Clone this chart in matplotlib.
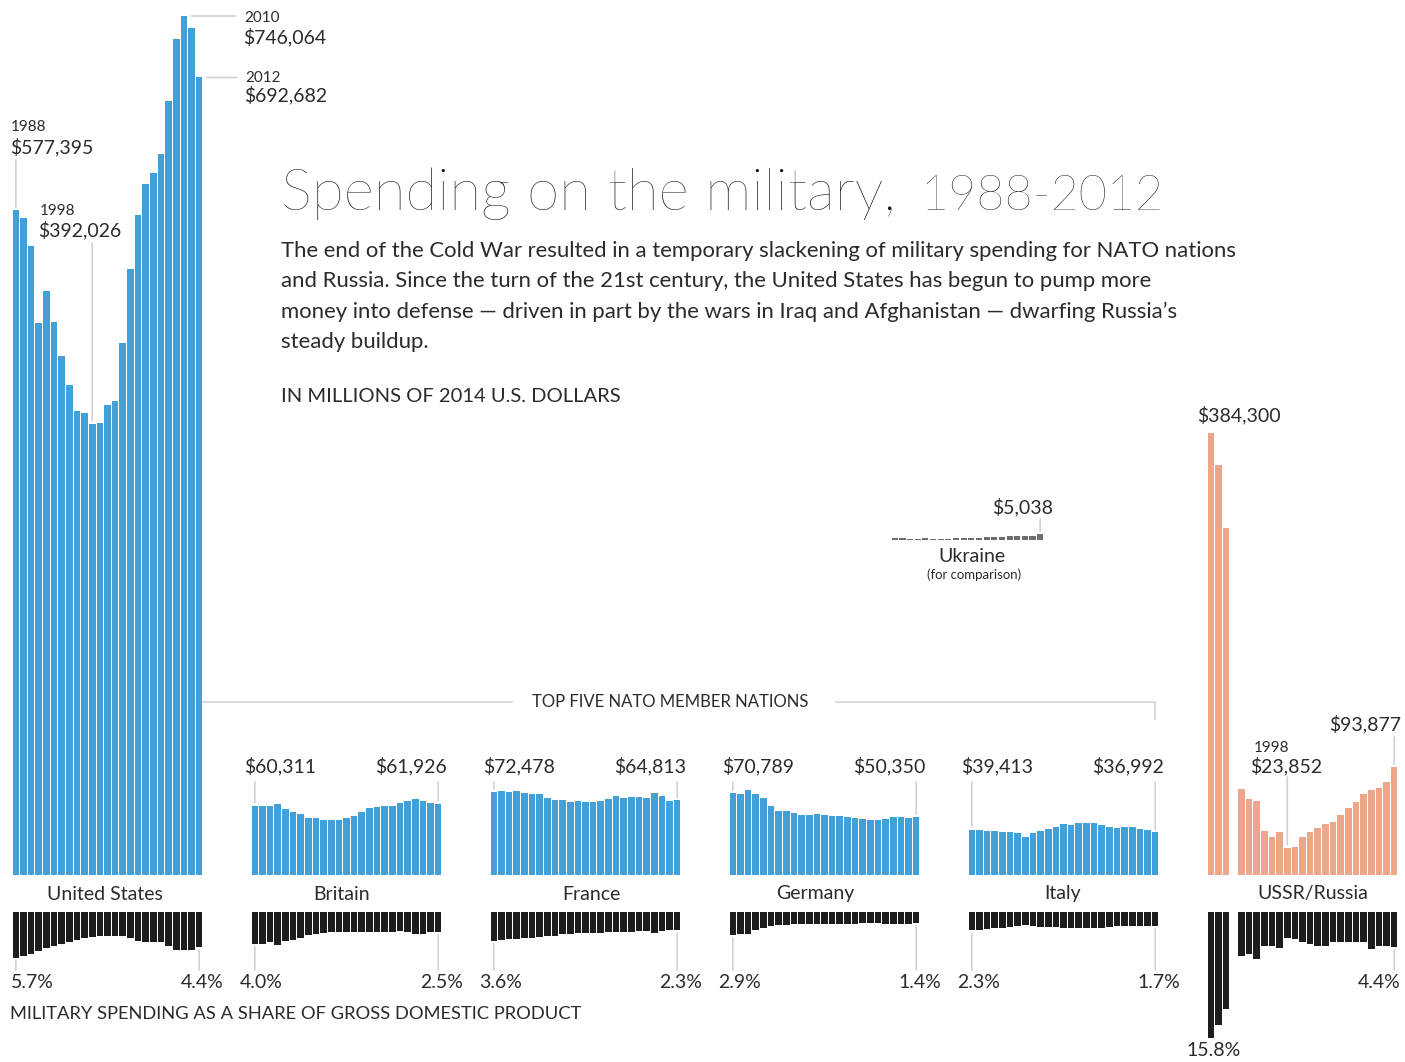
import matplotlib
matplotlib.use("Agg")
import matplotlib.pyplot as plt
from matplotlib.lines import Line2D
from matplotlib.transforms import Affine2D, blended_transform_factory

plt.rcParams["font.family"] = ["Lato", "DejaVu Sans"]

# Military spending, millions of 2014 U.S. dollars, 1988-2012
years = list(range(1988, 2013))

us_spend = [577395, 571000, 546000, 479000, 507000, 480000, 451000, 426000,
            403000, 401000, 392026, 393000, 408000, 412000, 462000, 526000,
            573000, 600000, 610000, 626000, 672000, 726000, 746064, 736000,
            692682]
uk_spend = [60311, 60300, 60300, 61700, 57100, 54400, 53000, 49500, 49300,
            47800, 47800, 47800, 49300, 51500, 54400, 58500, 59000, 59900,
            60300, 62200, 64600, 65700, 64600, 62200, 61926]
fr_spend = [72478, 72900, 72500, 72900, 70900, 70100, 70100, 66600, 65100,
            65100, 63700, 63900, 63100, 63000, 64000, 66300, 68600, 67100,
            67400, 67400, 66600, 71500, 68600, 64500, 64813]
de_spend = [70789, 70200, 73800, 70200, 66600, 59900, 55900, 55300, 54100,
            51800, 51800, 53000, 52100, 51500, 51500, 50700, 49200, 48600,
            47800, 47800, 48600, 50100, 50700, 49200, 50350]
it_spend = [39413, 39100, 37900, 38100, 37300, 37300, 36900, 32700, 36900,
            38300, 40000, 41400, 44000, 43400, 44900, 45200, 45200, 43400,
            42000, 40500, 42000, 41300, 40000, 39100, 36992]
ussr_years = [1988, 1989, 1990]
ussr_spend = [384300, 356000, 301000]
russia_years = list(range(1992, 2013))
russia_spend = [74700, 66000, 64300, 38200, 33300, 37100, 23852, 24100, 33300,
                37100, 41100, 44300, 45700, 52100, 58500, 63700, 70100, 73800,
                75300, 81000, 93877]
ukraine_years = list(range(1993, 2013))
ukraine_spend = [1500, 1400, 1300, 1200, 1400, 1100, 1000, 1300, 1500, 1600,
                 1700, 1900, 2300, 2600, 3000, 3600, 3400, 3700, 3700, 5038]

# Military spending as a share of GDP, percent
us_gdp = [5.7, 5.5, 5.2, 4.9, 4.5, 4.2, 4.0, 3.7, 3.5, 3.3, 3.1, 3.0, 3.0, 3.0,
          3.0, 3.3, 3.6, 3.8, 3.8, 3.8, 4.3, 4.8, 4.8, 4.7, 4.4]
uk_gdp = [4.0, 3.95, 3.8, 4.1, 3.65, 3.45, 3.2, 2.9, 2.7, 2.6, 2.5, 2.45, 2.45,
          2.45, 2.45, 2.55, 2.55, 2.55, 2.45, 2.4, 2.45, 2.75, 2.75, 2.55, 2.5]
fr_gdp = [3.6, 3.45, 3.35, 3.35, 3.3, 3.2, 3.1, 3.0, 2.95, 2.8, 2.7, 2.65, 2.65,
          2.65, 2.6, 2.55, 2.55, 2.55, 2.55, 2.4, 2.4, 2.6, 2.4, 2.3, 2.3]
de_gdp = [2.9, 2.7, 2.8, 2.2, 1.95, 1.75, 1.65, 1.6, 1.55, 1.5, 1.5, 1.5, 1.5,
          1.5, 1.5, 1.5, 1.45, 1.4, 1.4, 1.4, 1.45, 1.5, 1.5, 1.45, 1.4]
it_gdp = [2.3, 2.2, 2.1, 2.0, 2.0, 1.9, 1.8, 1.6, 1.75, 1.9, 1.9, 1.9, 2.0, 2.0,
          2.0, 2.0, 2.0, 2.0, 1.9, 1.75, 1.75, 1.75, 1.75, 1.7, 1.7]
ussr_gdp = [15.8, 14.1, 12.1]
russia_gdp = [5.5, 5.2, 5.9, 4.3, 4.2, 4.5, 3.2, 3.4, 3.7, 4.0, 4.3, 4.3, 3.8,
              3.8, 3.8, 3.8, 3.7, 4.6, 4.3, 4.2, 4.4]

BLUE = "#42a0d8"
PINK = "#eca68a"
BLACK = "#1d1d1d"
TEXT = "#2b2b2b"
RULE = "#d2d2d2"

W, H = 1405, 1062
SPEND_PX = 859 / 746064      # pixels per million dollars
GDP_PX = 8.0                 # pixels per percentage point
BASE = 875                   # spending baseline
GDP_TOP = 912                # top of the GDP-share bars

fig = plt.figure(figsize=(W / 100, H / 100), dpi=100)
# pixel coordinates, origin at top left
px = Affine2D().scale(1 / W, -1 / H).translate(0, 1) + fig.transFigure


def px_axes(x0, x1, y_top, y_bot):
    ax = fig.add_axes([x0 / W, 1 - y_bot / H, (x1 - x0) / W, (y_bot - y_top) / H])
    ax.set_axis_off()
    ax.patch.set_alpha(0)
    ax.set_xlim(-0.5, 24.5)
    return ax


def spend_axes(x0, x1, base=BASE):
    ax = px_axes(x0, x1, 0, base)
    ax.set_ylim(0, base / SPEND_PX)
    return ax


def gdp_axes(x0, x1):
    ax = px_axes(x0, x1, GDP_TOP, H)
    ax.set_ylim((H - GDP_TOP) / GDP_PX, 0)
    return ax


def txt(x, y, s, size=14, ha="left", **kw):
    fig.text(x, y, s, transform=px, size=size, ha=ha, va="center",
             color=TEXT, **kw)


def leader(ax, i, v, y_end):
    tr = blended_transform_factory(ax.transData, px)
    ax.annotate("", xy=(i, v), xytext=(i, y_end), textcoords=tr,
                arrowprops=dict(arrowstyle="-", color=RULE, lw=1.2,
                                shrinkA=0, shrinkB=2))


def hleader(ax, i, v, x_end):
    tr = blended_transform_factory(px, ax.transData)
    ax.annotate("", xy=(i, v), xytext=(x_end, v), textcoords=tr,
                arrowprops=dict(arrowstyle="-", color=RULE, lw=1.2,
                                shrinkA=0, shrinkB=3))


idx = list(range(25))
PITCH = 239
panels = [
    ("United States", us_spend, us_gdp, 105),
    ("Britain", uk_spend, uk_gdp, 342),
    ("France", fr_spend, fr_gdp, 591),
    ("Germany", de_spend, de_gdp, 815),
    ("Italy", it_spend, it_gdp, 1063),
]

for k, (name, spend, gdp, name_x) in enumerate(panels):
    x0 = 12 + PITCH * k
    x1 = x0 + 191
    ax = spend_axes(x0, x1)
    ax.bar(idx, spend, width=0.86, color=BLUE, linewidth=0)
    gx = gdp_axes(x0, x1)
    gx.bar(idx, gdp, width=0.86, color=BLACK, linewidth=0)
    txt(name_x, 894, name, ha="center")

    # share-of-GDP end labels
    leader(gx, 0, gdp[0], 970)
    leader(gx, 24, gdp[-1], 970)
    txt(x0 - (1 if k == 0 else 11), 983, f"{gdp[0]:.1f}%")
    txt(x1 + 21, 983, f"{gdp[-1]:.1f}%", ha="right")

    if k > 0:
        leader(ax, 0, spend[0], 782)
        leader(ax, 24, spend[-1], 782)
        txt(x0 - 7, 766, f"${spend[0]:,}")
        txt(x1 + 5, 766, f"${spend[-1]:,}", ha="right")
    else:
        us_ax = ax

# United States call-outs
i88, i98, i10, i12 = (years.index(y) for y in (1988, 1998, 2010, 2012))
leader(us_ax, i88, us_spend[i88], 160)
txt(11, 127, "1988", size=11)
txt(10, 147, f"${us_spend[i88]:,}")
leader(us_ax, i98, us_spend[i98], 243)
txt(40, 211, "1998", size=11)
txt(38, 230, f"${us_spend[i98]:,}")
hleader(us_ax, i10 + 0.45, us_spend[i10], 236)
txt(244, 18, "2010", size=11)
txt(243, 37, f"${us_spend[i10]:,}")
hleader(us_ax, i12 + 0.45, us_spend[i12], 237)
txt(245, 78, "2012", size=11)
txt(244, 95, f"${us_spend[i12]:,}")

# USSR / Russia
rx0 = 12 + PITCH * 5
rx1 = rx0 + 191
r_ussr = [y - 1988 for y in ussr_years]
r_rus = [y - 1988 for y in russia_years]
rax = spend_axes(rx0, rx1)
rax.bar(r_ussr, ussr_spend, width=0.86, color=PINK, linewidth=0)
rax.bar(r_rus, russia_spend, width=0.86, color=PINK, linewidth=0)
rgx = gdp_axes(rx0, rx1)
rgx.bar(r_ussr, ussr_gdp, width=0.86, color=BLACK, linewidth=0)
rgx.bar(r_rus, russia_gdp, width=0.86, color=BLACK, linewidth=0)
txt(1313, 894, "USSR/Russia", ha="center")
txt(1197, 415, f"${ussr_spend[0]:,}")
j98 = russia_years.index(1998)
leader(rax, r_rus[j98], russia_spend[j98], 777)
txt(1254, 748, "1998", size=11)
txt(1250, 766, f"${russia_spend[j98]:,}")
leader(rax, r_rus[-1], russia_spend[-1], 737)
txt(1401, 724, f"${russia_spend[-1]:,}", ha="right")
txt(1186, 1050, f"{ussr_gdp[0]:.1f}%")
leader(rgx, r_rus[-1], russia_gdp[-1], 970)
txt(1401, 983, f"{russia_gdp[-1]:.1f}%", ha="right")

# Ukraine, for comparison
uax = spend_axes(891, 1044, base=540)
uax.set_xlim(-0.5, 19.5)
uax.bar(range(len(ukraine_spend)), ukraine_spend, width=0.8,
        color="#6e6e6e", linewidth=0)
leader(uax, len(ukraine_spend) - 1, ukraine_spend[-1], 519)
txt(1053, 507, f"${ukraine_spend[-1]:,}", ha="right")
txt(972, 556, "Ukraine", ha="center")
txt(974, 575, "(for comparison)", size=9.5, ha="center")

# NATO bracket
for xs, ys in (([203, 512], [702, 702]), ([836, 1155, 1155], [702, 702, 719])):
    fig.add_artist(Line2D(xs, ys, transform=px, color=RULE, lw=1.2))
txt(670, 702, "TOP FIVE NATO MEMBER NATIONS", size=12, ha="center")

# Title and intro
fig.text(281, 210, "Spending on the military,", transform=px, size=42,
         weight="light", color="#111111", va="baseline")
fig.text(920, 210, "1988-2012", transform=px, size=35, weight="light",
         color="#111111", va="baseline")
intro = [
    "The end of the Cold War resulted in a temporary slackening of military spending for NATO nations",
    "and Russia. Since the turn of the 21st century, the United States has begun to pump more",
    "money into defense \u2014 driven in part by the wars in Iraq and Afghanistan \u2014 dwarfing Russia\u2019s",
    "steady buildup.",
]
for line, y in zip(intro, [256.7, 287.2, 317.7, 348.3]):
    fig.text(281, y, line, transform=px, size=15.9, color=TEXT, va="baseline")
fig.text(281, 401.7, "IN MILLIONS OF 2014 U.S. DOLLARS", transform=px,
         size=14.5, color=TEXT, va="baseline")
txt(10, 1014, "MILITARY SPENDING AS A SHARE OF GROSS DOMESTIC PRODUCT", size=13.2)

fig.savefig("out.png", dpi=100)
